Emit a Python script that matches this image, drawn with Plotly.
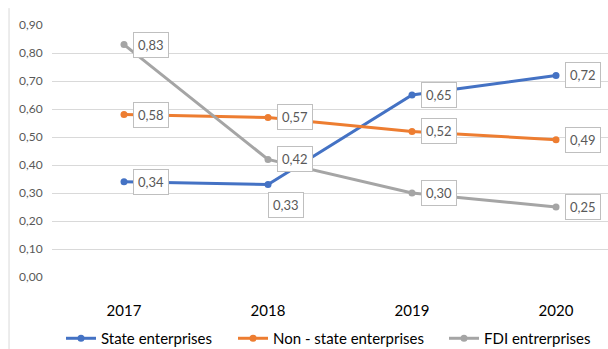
import plotly.graph_objects as go

years = ["2017", "2018", "2019", "2020"]
state = [0.34, 0.33, 0.65, 0.72]
non_state = [0.58, 0.57, 0.52, 0.49]
fdi = [0.83, 0.42, 0.30, 0.25]
y_ticks = [0.0, 0.1, 0.2, 0.3, 0.4, 0.5, 0.6, 0.7, 0.8, 0.9]
y_tick_text = ["0,00", "0,10", "0,20", "0,30", "0,40", "0,50", "0,60", "0,70", "0,80", "0,90"]

series = [
    ("State enterprises", state, "#4472C4", "legend", 61),
    ("Non - state enterprises", non_state, "#ED7D31", "legend2", 233),
    ("FDI entrerprises", fdi, "#A5A5A5", "legend3", 444),
]

FONT = "Lato, Carlito, Calibri, sans-serif"
fig = go.Figure()
x_idx = list(range(len(years)))
for name, vals, col, leg, _ in series:
    fig.add_trace(go.Scatter(
        x=x_idx, y=vals, name=name, mode="lines+markers", legend=leg,
        line=dict(color=col, width=3), marker=dict(color=col, size=7),
    ))

annotations = []
for name, vals, col, _, _ in series:
    for i, v in enumerate(vals):
        txt = f"{v:.2f}".replace(".", ",")
        below = (name == "State enterprises" and i == 1)
        annotations.append(dict(
            x=i, y=v, xref="x", yref="y", text=txt, showarrow=False,
            xanchor="left", yanchor="top" if below else "middle",
            xshift=0 if below else 9, yshift=-7 if below else 0,
            bgcolor="white", bordercolor="#BFBFBF", borderwidth=1, borderpad=4,
            font=dict(family=FONT, size=13, color="#595959"),
        ))

legend_common = dict(orientation="h", xref="container", yref="container",
                     xanchor="left", y=0.03, yanchor="middle",
                     font=dict(family=FONT, size=15, color="#000000"),
                     itemwidth=30, bgcolor="rgba(0,0,0,0)")
legends = {}
for name, vals, col, leg, xpx in series:
    legends[leg] = dict(legend_common, x=xpx / 608)

fig.update_layout(
    width=608, height=349,
    margin=dict(l=52, r=0, t=25, b=72),
    paper_bgcolor="white", plot_bgcolor="white",
    annotations=annotations,
    showlegend=True,
    **legends,
    xaxis=dict(range=[-0.5, 3.361], tickvals=x_idx, ticktext=years, showgrid=False,
               zeroline=False, showline=False, ticks="outside", ticklen=20,
               tickcolor="rgba(0,0,0,0)",
               tickfont=dict(family=FONT, size=15, color="#000000")),
    yaxis=dict(range=[0, 0.9], tickvals=y_ticks, ticktext=y_tick_text, showgrid=True,
               gridcolor="#D9D9D9", gridwidth=1, zeroline=False, showline=False,
               ticks="outside", ticklen=6, tickcolor="rgba(0,0,0,0)",
               tickfont=dict(family=FONT, size=12, color="#595959")),
    shapes=[dict(type="line", xref="paper", yref="paper", x0=-0.0773, x1=-0.0773,
                 y0=1.067, y1=-0.29, line=dict(color="#D9D9D9", width=1))],
)

fig.write_html("out.html")
